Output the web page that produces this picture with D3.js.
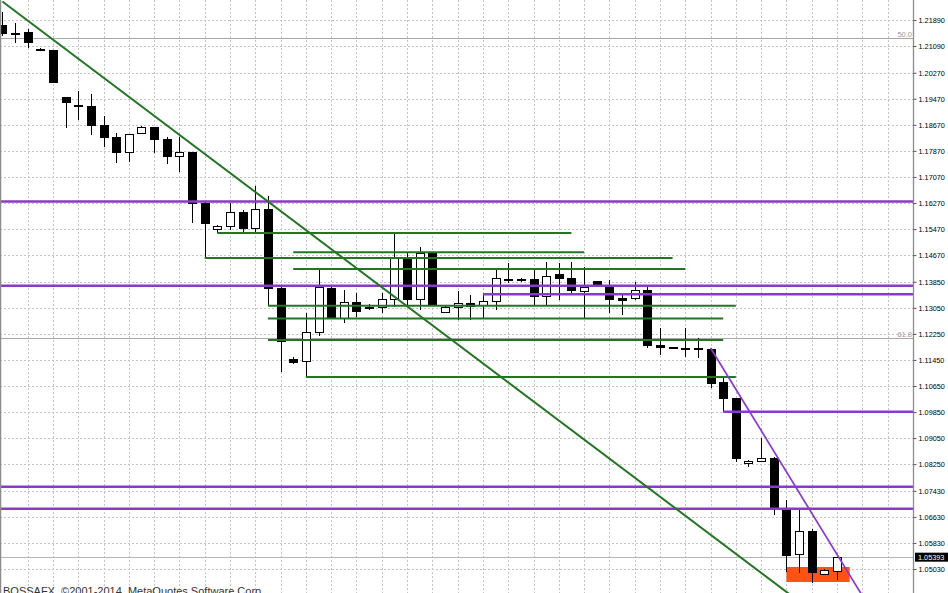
<!DOCTYPE html>
<html><head><meta charset="utf-8">
<script src="https://cdn.jsdelivr.net/npm/d3@7/dist/d3.min.js"></script>
<style>html,body{margin:0;padding:0;background:#fff;overflow:hidden}svg{display:block}</style>
</head><body>
<svg id="chart" width="948" height="593"></svg>
<script>
// ---- data (bar index 0..66) ----
const barIndex = d3.range(67);
const opens  = [1.21736,1.21495,1.21521,1.20999,1.20969,1.19525,1.19279,1.19249,1.18665,1.18297,1.17836,1.18420,1.18604,1.18235,1.17713,1.17836,1.16270,1.15471,1.15564,1.15994,1.15502,1.16086,1.13660,1.11479,1.11418,1.12308,1.13660,1.12738,1.13230,1.13091,1.13076,1.13322,1.14581,1.13322,1.14734,1.12923,1.13076,1.13199,1.13137,1.13260,1.13951,1.13936,1.13936,1.13414,1.14090,1.13967,1.13568,1.13875,1.13690,1.13359,1.13352,1.13598,1.11909,1.11833,1.11802,1.11802,1.11786,1.10773,1.10281,1.08285,1.08347,1.08439,1.06842,1.05491,1.06197,1.04876,1.04969];
const highs  = [1.22135,1.21798,1.21613,1.21030,1.20969,1.19525,1.19709,1.19617,1.18942,1.18420,1.18389,1.18635,1.18604,1.18297,1.18297,1.17836,1.16331,1.15594,1.16270,1.16055,1.16792,1.16485,1.13690,1.11541,1.12892,1.14212,1.13690,1.13598,1.13506,1.13168,1.13506,1.15349,1.14734,1.14919,1.14765,1.13107,1.13567,1.13445,1.13445,1.14212,1.14427,1.13967,1.14212,1.14458,1.14427,1.14458,1.14304,1.13875,1.13905,1.13506,1.13844,1.13690,1.12431,1.11848,1.12431,1.12124,1.11817,1.10927,1.10281,1.08377,1.09053,1.08470,1.07149,1.06842,1.06258,1.05030,1.05400];
const lows   = [1.21398,1.21183,1.21030,1.20938,1.19955,1.18573,1.18819,1.18358,1.17990,1.17498,1.17529,1.18404,1.17805,1.17468,1.17222,1.15656,1.14581,1.15349,1.15441,1.15349,1.15379,1.13107,1.11080,1.11326,1.10926,1.12185,1.12708,1.12585,1.12769,1.12984,1.12892,1.13076,1.13076,1.12984,1.13137,1.12892,1.12677,1.12677,1.12738,1.12984,1.13813,1.13844,1.13107,1.13107,1.13291,1.13506,1.12738,1.13752,1.12892,1.12830,1.13291,1.11817,1.11602,1.11786,1.11541,1.11510,1.10589,1.09852,1.08316,1.08162,1.08316,1.06688,1.04938,1.04907,1.04600,1.04846,1.04692];
const closes = [1.21491,1.21488,1.21214,1.20969,1.19986,1.19372,1.19264,1.18665,1.18297,1.17836,1.18389,1.18604,1.18235,1.17713,1.17836,1.16270,1.15656,1.15564,1.15994,1.15502,1.16086,1.13660,1.12032,1.11387,1.12308,1.13690,1.12738,1.13230,1.12953,1.13061,1.13322,1.14581,1.13322,1.14734,1.13168,1.13076,1.13199,1.13122,1.13260,1.13967,1.13921,1.13911,1.13414,1.14028,1.13967,1.13598,1.13690,1.13782,1.13322,1.13306,1.13598,1.11909,1.11848,1.11802,1.11771,1.11771,1.10742,1.10281,1.08439,1.08347,1.08439,1.06903,1.05460,1.06197,1.04938,1.04999,1.05393];

const tickLabels = ["1.21890","1.21090","1.20270","1.19470","1.18670","1.17870","1.17070","1.16270","1.15470","1.14670","1.13850","1.13050","1.12250","1.11450","1.10650","1.09850","1.09050","1.08250","1.07430","1.06630","1.05830","1.05030","1.04230"];
const gridBars = d3.range(2, 71, 2);

const purplePrices = [1.16316, 1.13730, 1.13466, 1.09861, 1.07558, 1.06882];
const purpleFrom   = [0, 0, 38, 57, 0, 0];
const greenPrices  = [1.15349, 1.14759, 1.14581, 1.14243, 1.13113, 1.12723, 1.12063, 1.10926];
const greenFrom    = [17, 23, 16, 23, 21, 21, 21, 24];
const greenTo      = [45, 46, 53, 54, 58, 57, 57, 58];
const greenTrendBars   = [0, 60];
const greenTrendPrices = [1.22458, 1.04913];
const purpleTrendBars   = [56, 66];
const purpleTrendPrices = [1.11817, 1.05478];
const fibNames  = ["50.0", "61.8"];
const fibPrices = [1.21346, 1.12139];
const zoneBars   = [62, 67];
const zonePrices = [1.05092, 1.04631];
const bidPrice = 1.05393;
const footer = "BOSSAFX, ©2001-2014, MetaQuotes Software Corp.";

// ---- layout ----
const W = 948, H = 593, axisX = 913;
const svg = d3.select("#chart");
const x = d3.scaleLinear().domain([0, 70]).range([2.35, 887.6]);
const y = d3.scaleLinear().domain([1.05030, 1.21890]).range([569, 20]);
const font = "'Liberation Sans', Arial, sans-serif";

svg.append("rect").attr("width", W).attr("height", H).attr("fill", "#fff");
svg.append("defs").append("clipPath").attr("id", "plot")
  .append("rect").attr("x", 0).attr("y", 0).attr("width", axisX).attr("height", H);

const plot = svg.append("g").attr("clip-path", "url(#plot)");
const tickVals = tickLabels.map(Number);

// grid
const grid = plot.append("g").attr("stroke", "#c4c4c4").attr("stroke-dasharray", "2,2")
  .attr("shape-rendering", "crispEdges");
grid.selectAll(".h").data(tickVals).join("line")
  .attr("x1", 0).attr("x2", axisX)
  .attr("y1", d => Math.round(y(d)) + 0.5).attr("y2", d => Math.round(y(d)) + 0.5);
grid.selectAll(".v").data(gridBars).join("line")
  .attr("y1", 0).attr("y2", H)
  .attr("x1", d => Math.round(x(d)) + 0.5).attr("x2", d => Math.round(x(d)) + 0.5);

// zone rectangle (background)
plot.append("rect")
  .attr("x", x(zoneBars[0])).attr("width", x(zoneBars[1]) - x(zoneBars[0]))
  .attr("y", y(zonePrices[0])).attr("height", y(zonePrices[1]) - y(zonePrices[0]))
  .attr("fill", "#ff5314");

// fibo levels and bid line
plot.selectAll(".fib").data(fibPrices).join("line")
  .attr("x1", 0).attr("x2", axisX)
  .attr("y1", d => Math.round(y(d)) + 0.5).attr("y2", d => Math.round(y(d)) + 0.5)
  .attr("stroke", "#a8a8a8").attr("stroke-width", 1);
plot.selectAll(".fibt").data(fibPrices).join("text")
  .attr("x", axisX - 1).attr("y", d => Math.round(y(d)) - 1)
  .attr("text-anchor", "end").attr("font-family", font).attr("font-size", 7.5)
  .attr("fill", "#999").text((d, i) => fibNames[i]);
plot.append("line").attr("x1", 0).attr("x2", axisX)
  .attr("y1", Math.round(y(bidPrice)) + 0.5).attr("y2", Math.round(y(bidPrice)) + 0.5)
  .attr("stroke", "#b4b4b4");

// candles
const cg = plot.append("g").attr("shape-rendering", "crispEdges");
barIndex.forEach(i => {
  const o = opens[i], h = highs[i], l = lows[i], c = closes[i];
  const cx = Math.round(x(i));
  cg.append("line").attr("x1", cx + 0.5).attr("x2", cx + 0.5)
    .attr("y1", y(h)).attr("y2", y(l)).attr("stroke", "#000");
  const top = y(Math.max(o, c)), bot = y(Math.min(o, c));
  cg.append("rect").attr("x", cx - 3.5).attr("width", 8)
    .attr("y", Math.round(top) + 0.5).attr("height", Math.max(1, Math.round(bot - top)))
    .attr("fill", c > o ? "#fff" : "#000").attr("stroke", "#000");
});

// horizontal levels
plot.selectAll(".pl").data(purplePrices).join("line")
  .attr("x1", (d, i) => purpleFrom[i] ? x(purpleFrom[i]) : 0).attr("x2", axisX)
  .attr("y1", d => y(d)).attr("y2", d => y(d))
  .attr("stroke", "#8a3acb").attr("stroke-width", 2.5);
plot.selectAll(".gl").data(greenPrices).join("line")
  .attr("x1", (d, i) => x(greenFrom[i])).attr("x2", (d, i) => x(greenTo[i]))
  .attr("y1", d => y(d)).attr("y2", d => y(d))
  .attr("stroke", "#237523").attr("stroke-width", 2);

// trend lines (rays)
function ray(bars, prices, color, w) {
  const slope = (prices[1] - prices[0]) / (bars[1] - bars[0]);
  const endBar = 80;
  plot.append("line")
    .attr("x1", x(bars[0])).attr("y1", y(prices[0]))
    .attr("x2", x(endBar)).attr("y2", y(prices[0] + slope * (endBar - bars[0])))
    .attr("stroke", color).attr("stroke-width", w);
}
ray(greenTrendBars, greenTrendPrices, "#237523", 2);
ray(purpleTrendBars, purpleTrendPrices, "#8a3acb", 1.7);

// borders and axis
svg.append("line").attr("x1", 0.5).attr("x2", 0.5).attr("y1", 0).attr("y2", H)
  .attr("stroke", "#8c8c8c").attr("stroke-width", 1.5);
svg.append("line").attr("x1", axisX + 0.5).attr("x2", axisX + 0.5).attr("y1", 0).attr("y2", H)
  .attr("stroke", "#8c8c8c").attr("stroke-width", 1.3);

const axis = d3.axisRight(y).tickValues(tickVals).tickSize(3).tickPadding(2)
  .tickFormat((d, i) => tickLabels[i]);
const ag = svg.append("g").attr("transform", `translate(${axisX + 0.5},0)`).call(axis);
ag.select(".domain").remove();
ag.selectAll("line").attr("stroke", "#555");
ag.selectAll("text").attr("font-family", font).attr("font-size", 7.3).attr("fill", "#000");

// bid label
const yb = y(bidPrice);
svg.append("rect").attr("x", axisX + 2).attr("y", yb - 4.5).attr("width", W - axisX - 2).attr("height", 9)
  .attr("fill", "#000");
svg.append("text").attr("x", axisX + 5).attr("y", yb).attr("dy", "0.32em")
  .attr("font-family", font).attr("font-size", 7.3).attr("fill", "#fff").text(d3.format(".5f")(bidPrice));

// footer
svg.append("text").attr("x", 3).attr("y", 595).attr("font-family", font).attr("font-size", 11)
  .attr("fill", "#333").text(footer);
</script>
</body></html>
